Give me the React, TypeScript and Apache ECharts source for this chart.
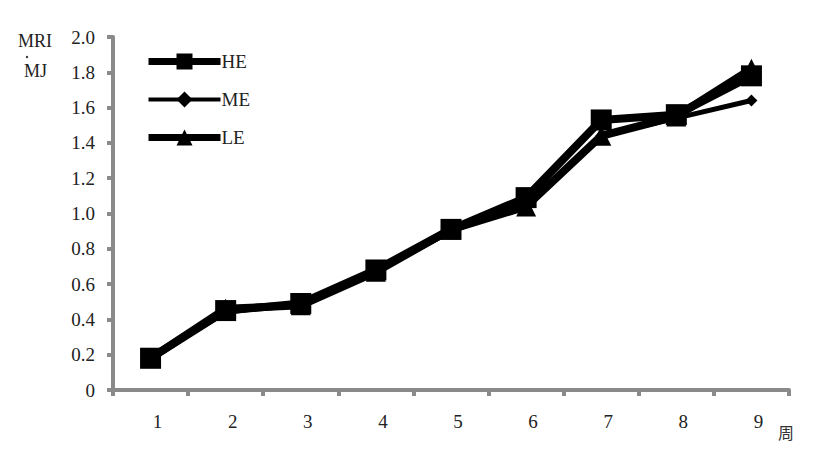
import React, { useEffect, useRef } from "react";
import * as echarts from "echarts";

const weeks = ["1", "2", "3", "4", "5", "6", "7", "8", "9"];
const heValues = [0.18, 0.45, 0.49, 0.68, 0.91, 1.09, 1.53, 1.56, 1.78];
const meValues = [0.18, 0.44, 0.49, 0.67, 0.9, 1.05, 1.44, 1.54, 1.64];
const leValues = [0.18, 0.46, 0.48, 0.67, 0.91, 1.04, 1.44, 1.55, 1.82];
const seriesNames = ["HE", "ME", "LE"];

const FONT = "serif";
const AXIS = "#8a8a8a";

export default function App() {
  const ref = useRef<HTMLDivElement>(null);
  useEffect(() => {
    if (!ref.current) return;
    const chart = echarts.init(ref.current, null, { renderer: "svg" });
    chart.setOption({
      animation: false,
      backgroundColor: "#fff",
      grid: { left: 113, right: 42, top: 37, bottom: 61 },
      legend: {
        orient: "vertical",
        left: 140,
        top: 47,
        itemWidth: 72,
        itemHeight: 20,
        itemGap: 19,
        data: [
          { name: seriesNames[0], lineStyle: { width: 7 } },
          { name: seriesNames[1], lineStyle: { width: 4 } },
          { name: seriesNames[2], lineStyle: { width: 7 } },
        ],
        textStyle: { fontFamily: FONT, fontSize: 19, color: "#222", padding: [0, 0, 0, -4] },
      },
      xAxis: {
        type: "category",
        data: weeks,
        boundaryGap: true,
        axisLine: { lineStyle: { color: AXIS, width: 4 } },
        axisTick: { show: true, length: 6, lineStyle: { color: AXIS, width: 4 } },
        axisLabel: { fontFamily: FONT, fontSize: 19, color: "#222", margin: 22, padding: [0, 0, 0, 14] },
        splitLine: { show: false },
      },
      yAxis: {
        type: "value",
        min: 0,
        max: 2,
        interval: 0.2,
        axisLine: { show: true, lineStyle: { color: AXIS, width: 4 } },
        axisTick: { show: true, length: 6, lineStyle: { color: AXIS, width: 4 } },
        axisLabel: {
          fontFamily: FONT,
          fontSize: 19,
          color: "#222",
          margin: 18,
          formatter: (v: number) => (v === 0 ? "0" : v.toFixed(1)),
        },
        splitLine: { show: false },
      },
      graphic: [
        { type: "text", left: 18, top: 32, style: { text: "MRI", fontFamily: FONT, fontSize: 18, fill: "#222" } },
        { type: "circle", shape: { cx: 27, cy: 57, r: 1.2 }, style: { fill: "#333" } },
        { type: "text", left: 24, top: 62, style: { text: "MJ", fontFamily: FONT, fontSize: 18, fill: "#222" } },
        { type: "text", left: 778, top: 424, style: { text: "周", fontFamily: "Noto Sans CJK SC", fontSize: 16, fill: "#333" } },
      ],
      series: [
        {
          name: "HE",
          type: "line",
          data: heValues,
          symbol: "rect",
          symbolSize: 21,
          lineStyle: { color: "#000", width: 8 },
          itemStyle: { color: "#000" },
          z: 3,
        },
        {
          name: "ME",
          type: "line",
          data: meValues,
          symbol: "diamond",
          symbolSize: 12,
          lineStyle: { color: "#000", width: 5 },
          itemStyle: { color: "#000" },
          z: 2,
        },
        {
          name: "LE",
          type: "line",
          data: leValues,
          symbol: "triangle",
          symbolSize: 20,
          lineStyle: { color: "#000", width: 8 },
          itemStyle: { color: "#000" },
          z: 2,
        },
      ],
    });
    return () => chart.dispose();
  }, []);
  return (
    <div
      ref={ref}
      style={{ position: "absolute", left: 0, top: 0, width: 831, height: 451 }}
    />
  );
}
